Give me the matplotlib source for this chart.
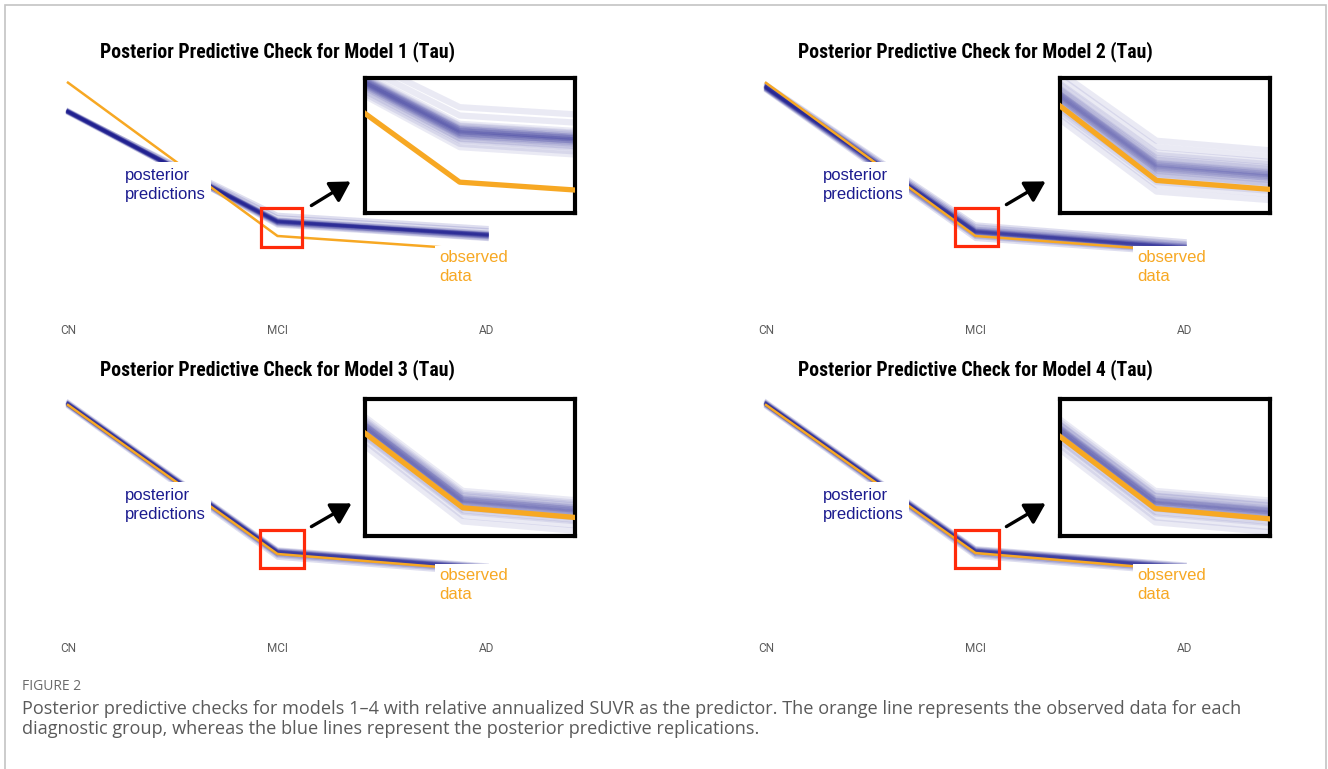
import numpy as np
import matplotlib
matplotlib.use("Agg")
import matplotlib.pyplot as plt
from matplotlib.patches import Rectangle, FancyArrowPatch
from matplotlib import font_manager as fm

# Data (arbitrary SUVR-like units)
groups = ['CN', 'MCI', 'AD']
models = [1, 2, 3, 4]

observed_m1 = [0.989, 0.350, 0.290]
observed_m2 = [0.988, 0.350, 0.285]
observed_m3 = [0.971, 0.350, 0.280]
observed_m4 = [0.971, 0.354, 0.281]

# posterior predictive replications, one row per draw (CN, MCI, AD)
ppc_m1 = [
    [0.868, 0.410, 0.354], [0.872, 0.413, 0.357], [0.864, 0.407, 0.351],
    [0.870, 0.415, 0.360], [0.866, 0.405, 0.349], [0.874, 0.411, 0.356],
    [0.862, 0.409, 0.352], [0.869, 0.418, 0.363], [0.867, 0.402, 0.346],
    [0.871, 0.408, 0.358], [0.865, 0.412, 0.353], [0.876, 0.420, 0.366],
    [0.860, 0.400, 0.343], [0.869, 0.414, 0.350], [0.866, 0.406, 0.359],
    [0.873, 0.430, 0.376], [0.863, 0.396, 0.338], [0.870, 0.440, 0.385],
    [0.868, 0.411, 0.355], [0.867, 0.409, 0.353], [0.871, 0.403, 0.347],
    [0.864, 0.417, 0.361], [0.869, 0.392, 0.336], [0.866, 0.413, 0.357],
]
ppc_m2 = [
    [0.969, 0.367, 0.300], [0.972, 0.372, 0.305], [0.965, 0.362, 0.296],
    [0.975, 0.376, 0.309], [0.962, 0.358, 0.292], [0.970, 0.370, 0.298],
    [0.967, 0.364, 0.303], [0.978, 0.382, 0.315], [0.960, 0.352, 0.287],
    [0.971, 0.369, 0.306], [0.966, 0.365, 0.297], [0.982, 0.392, 0.322],
    [0.957, 0.344, 0.280], [0.973, 0.378, 0.311], [0.964, 0.360, 0.294],
    [0.985, 0.400, 0.330], [0.954, 0.336, 0.274], [0.968, 0.371, 0.302],
    [0.970, 0.366, 0.299], [0.963, 0.356, 0.290], [0.976, 0.385, 0.318],
    [0.969, 0.368, 0.301], [0.958, 0.348, 0.284], [0.974, 0.374, 0.307],
]
ppc_m3 = [
    [0.975, 0.358, 0.290], [0.978, 0.361, 0.294], [0.972, 0.355, 0.287],
    [0.980, 0.364, 0.297], [0.970, 0.352, 0.284], [0.976, 0.360, 0.292],
    [0.973, 0.356, 0.288], [0.983, 0.368, 0.301], [0.968, 0.347, 0.279],
    [0.977, 0.359, 0.293], [0.974, 0.354, 0.286], [0.965, 0.340, 0.272],
    [0.979, 0.366, 0.299], [0.971, 0.350, 0.282], [0.986, 0.371, 0.304],
    [0.962, 0.333, 0.266], [0.975, 0.357, 0.291], [0.976, 0.362, 0.295],
    [0.969, 0.345, 0.277], [0.978, 0.360, 0.289],
]
ppc_m4 = [
    [0.975, 0.362, 0.293], [0.978, 0.365, 0.297], [0.972, 0.359, 0.290],
    [0.981, 0.369, 0.301], [0.970, 0.356, 0.287], [0.976, 0.363, 0.295],
    [0.973, 0.360, 0.291], [0.984, 0.373, 0.305], [0.967, 0.350, 0.281],
    [0.977, 0.364, 0.296], [0.974, 0.358, 0.289], [0.964, 0.343, 0.274],
    [0.980, 0.370, 0.302], [0.971, 0.354, 0.285], [0.987, 0.376, 0.308],
    [0.961, 0.337, 0.268], [0.975, 0.361, 0.294], [0.977, 0.366, 0.298],
    [0.969, 0.348, 0.279], [0.979, 0.363, 0.292],
]

observed = [observed_m1, observed_m2, observed_m3, observed_m4]
ppc = [ppc_m1, ppc_m2, ppc_m3, ppc_m4]

# Layout (pixels, from top-left of the image)
W, H = 1328, 769
main_left = [68, 766, 68, 766]
main_top = [80, 80, 398, 398]
main_w, main_h = 419, 240
inset_left = [365, 1060, 365, 1060]
inset_top = [78, 78, 399, 399]
inset_h = [135, 135, 137, 137]
inset_w = 210
zoom_x = [(0.871, 1.157), (0.853, 1.173), (0.851, 1.171), (0.855, 1.175)]
zoom_y = [(0.313, 0.475), (0.309, 0.479), (0.315, 0.485), (0.320, 0.490)]
red_x = [(0.921, 1.117), (0.902, 1.107), (0.916, 1.126), (0.902, 1.111)]
red_y = [(0.305, 0.467), (0.308, 0.467), (0.292, 0.450), (0.292, 0.450)]
arrow_from = [(309, 207), (1004, 206), (309, 528), (1004, 528)]
arrow_to = [(353, 180), (1048, 180), (354, 502), (1048, 502)]
title_xy = [(100, 52), (798, 52), (100, 370), (798, 370)]
post_xy = [(125, 185), (823, 185), (125, 505), (823, 505)]
obs_xy = [(439, 267), (1137, 267), (439, 585), (1137, 585)]

navy = '#1b1b8f'
orange = '#f7a823'
red = '#ff2a0a'

names = {f.name for f in fm.fontManager.ttflist}
title_font = next((n for n in ['Roboto Condensed', 'Liberation Sans Narrow', 'Roboto']
                   if n in names), 'DejaVu Sans')


def fx(x):
    return x / W


def fy(y):
    return 1 - y / H


def box(left, top, width, height):
    return [left / W, 1 - (top + height) / H, width / W, height / H]


fig = plt.figure(figsize=(W / 100, H / 100), dpi=100)
x = np.arange(len(groups))

for i, m in enumerate(models):
    # main panel
    ax = fig.add_axes(box(main_left[i], main_top[i], main_w, main_h))
    for rep in ppc[i]:
        ax.plot(x, rep, color=navy, lw=2.5, alpha=0.14, clip_on=False,
                solid_joinstyle='miter')
    ax.plot(x, observed[i], color=orange, lw=1.8, zorder=3, clip_on=False)
    ax.set_xlim(0, 2)
    ax.set_ylim(0, 1)
    ax.set_xticks(x)
    ax.set_xticklabels(groups, fontsize=8.5, color='#5c5c5c', family='Roboto')
    ax.set_yticks([])
    ax.tick_params(length=0, pad=3)
    for s in ax.spines.values():
        s.set_visible(False)
    ax.add_patch(Rectangle((red_x[i][0], red_y[i][0]), red_x[i][1] - red_x[i][0],
                           red_y[i][1] - red_y[i][0], fill=False, edgecolor=red,
                           lw=2.3, clip_on=False, zorder=5))

    # zoomed inset
    ins = fig.add_axes(box(inset_left[i], inset_top[i], inset_w, inset_h[i]))
    for rep in ppc[i]:
        ins.plot(x, rep, color=navy, lw=4.5, alpha=0.09)
    ins.plot(x, observed[i], color=orange, lw=3.8, zorder=3)
    ins.set_xlim(*zoom_x[i])
    ins.set_ylim(*zoom_y[i])
    ins.set_xticks([])
    ins.set_yticks([])
    for s in ins.spines.values():
        s.set_linewidth(3)
        s.set_color('black')

    fig.text(fx(title_xy[i][0]), fy(title_xy[i][1]),
             f'Posterior Predictive Check for Model {m} (Tau)',
             fontsize=14.2, fontweight='bold', family=title_font,
             ha='left', va='center')
    fig.text(fx(post_xy[i][0]), fy(post_xy[i][1]), 'posterior\npredictions',
             fontsize=12, color=navy, family='Liberation Sans', ha='left',
             va='center', linespacing=1.38,
             bbox=dict(facecolor='white', edgecolor='none', pad=4))
    fig.text(fx(obs_xy[i][0]), fy(obs_xy[i][1]), 'observed\ndata',
             fontsize=12, color=orange, family='Liberation Sans', ha='left',
             va='center', linespacing=1.38,
             bbox=dict(facecolor='white', edgecolor='none', pad=3))
    fig.add_artist(FancyArrowPatch(
        (fx(arrow_from[i][0]), fy(arrow_from[i][1])),
        (fx(arrow_to[i][0]), fy(arrow_to[i][1])),
        transform=fig.transFigure, color='black', lw=2.4,
        arrowstyle='-|>,head_length=0.55,head_width=0.32', mutation_scale=22))

# caption
fig.text(fx(22), fy(686), 'FIGURE 2', fontsize=10, color='#6b6b6b',
         family='Open Sans', ha='left', va='center')
fig.text(fx(22), fy(709),
         'Posterior predictive checks for models 1\u20134 with relative annualized SUVR as the '
         'predictor. The orange line represents the observed data for each',
         fontsize=13.1, color='#5a5a5a', family='Open Sans', ha='left', va='center')
fig.text(fx(22), fy(729),
         'diagnostic group, whereas the blue lines represent the posterior predictive replications.',
         fontsize=13.1, color='#5a5a5a', family='Open Sans', ha='left', va='center')

# outer frame
fig.add_artist(Rectangle((fx(5), -0.05), fx(1321), fy(5) + 0.05,
                         transform=fig.transFigure, fill=False,
                         edgecolor='#c4c4c4', lw=1.2))

fig.savefig('out.png', dpi=100)
